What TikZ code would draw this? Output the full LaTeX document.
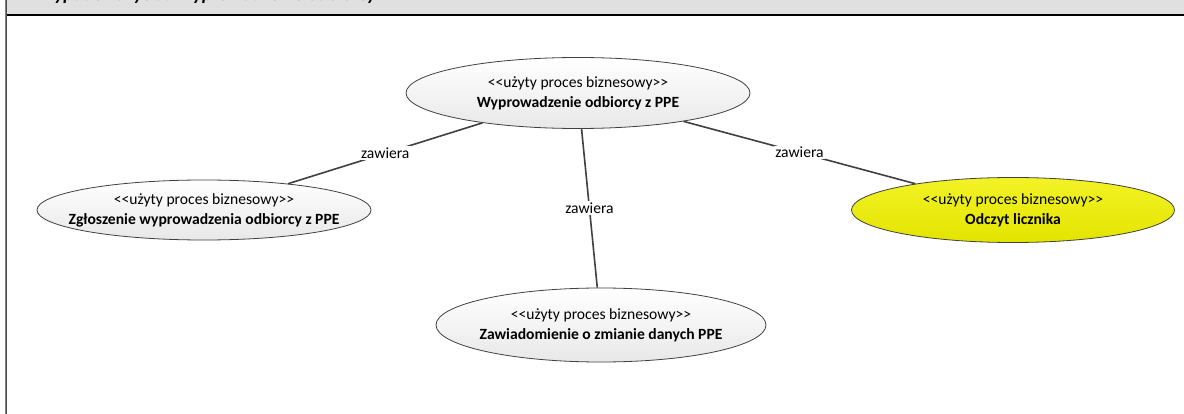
\documentclass[tikz,border=0pt]{standalone}
\usepackage{fontspec}
\setmainfont{Carlito}
\usetikzlibrary{shapes.geometric}
\definecolor{hdr}{RGB}{224,224,224}
\definecolor{conn}{RGB}{64,64,64}
\definecolor{ucyel}{RGB}{240,240,0}
\newcommand{\stereo}{{<}{<}użyty proces biznesowy{>}{>}}
\tikzset{
  uc/.style={ellipse, draw=conn, line width=0.8pt, inner sep=0pt,
    top color=white, bottom color=gray!18},
  ucy/.style={uc, top color=ucyel!85!white, bottom color=ucyel!95!black},
  uctext/.style={align=center, inner sep=0pt, font=\fontsize{15.6}{20}\selectfont},
  link/.style={draw=conn, line width=1.6pt},
  lbl/.style={fill=white, inner sep=1.5pt, font=\fontsize{15.6}{17}\selectfont, text=black}
}
\begin{document}
\begin{tikzpicture}[x=1pt,y=-1pt]
\useasboundingbox (0,0) rectangle (1184,414);
\begin{scope}
\clip (0,0) rectangle (1184,414);
\fill[white] (0,0) rectangle (1184,414);
\fill[hdr] (6,0) rectangle (1184,15);
\draw[black, line width=1.3pt] (6,15) -- (1184,15);
\draw[gray, line width=1pt] (5,0) -- (5,414);
\draw[black!70, line width=0.6pt] (6.2,0) -- (6.2,414);
\node[anchor=base west, inner sep=0pt, font=\fontsize{19}{21}\selectfont\bfseries\itshape] (title) at (30,0.8) {Przypadek użycia: Wyprowadzenie odbiorcy};

\node[uc, minimum width=344pt, minimum height=71pt] (main) at (578,93) {};
\node[uctext] (maint) at (main.center) {\stereo\\\textbf{Wyprowadzenie odbiorcy z PPE}};
\node[uc, minimum width=334pt, minimum height=60pt] (zgl) at (204,210) {};
\node[uctext] (zglt) at (zgl.center) {\stereo\\\textbf{Zgłoszenie wyprowadzenia odbiorcy z PPE}};
\node[ucy, minimum width=323pt, minimum height=65pt] (odc) at (1013,210) {};
\node[uctext] (odct) at (odc.center) {\stereo\\\textbf{Odczyt licznika}};
\node[uc, minimum width=330pt, minimum height=74pt] (zaw) at (601,325) {};
\node[uctext] (zawt) at (zaw.center) {\stereo\\\textbf{Zawiadomienie o zmianie danych PPE}};

\path[link] (main) -- node[lbl] (l1) {zawiera} (zgl);
\path[link] (main) -- node[lbl] (l2) {zawiera} (zaw);
\path[link] (main) -- node[lbl] (l3) {zawiera} (odc);
\end{scope}
\end{tikzpicture}
\end{document}
